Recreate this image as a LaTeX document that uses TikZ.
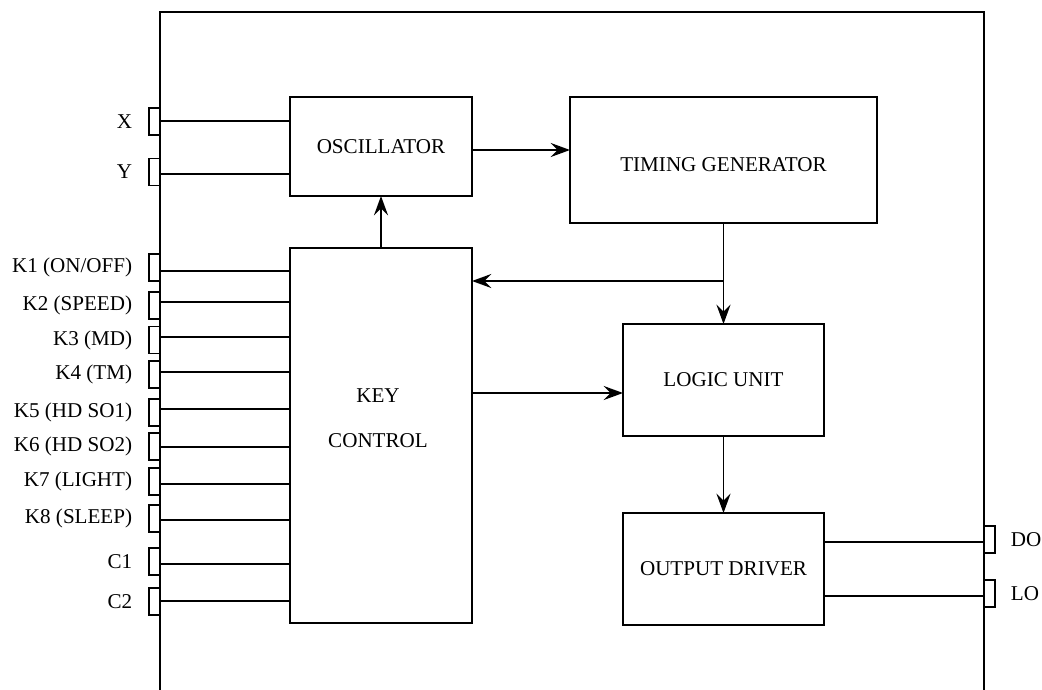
\documentclass[tikz,border=0pt]{standalone}
\usepackage{fontspec}
\setmainfont{Liberation Serif}
\usetikzlibrary{arrows.meta}

\begin{document}
\begin{tikzpicture}[x=0.02cm,y=-0.02cm,line width=1pt,
    every node/.style={font=\fontsize{12}{14}\selectfont},
    block/.style={draw,rectangle,inner sep=0pt,outer sep=0pt},
    pinbox/.style={draw,rectangle,inner sep=0pt,outer sep=0pt,
      line width=0.8pt,minimum width=0.22cm,minimum height=0.54cm},
    pinlabel/.style={inner sep=0pt},
    >={Stealth[length=11pt,width=8pt,inset=4pt]}]
  \useasboundingbox (0,0) rectangle (1042,690);

  % chip outline
  \draw (160,690) -- (160,12) -- (984,12) -- (984,690);

  % blocks
  \node[block,minimum width=3.64cm,minimum height=1.98cm] (osc) at (381,146.5) {OSCILLATOR};
  \node[block,minimum width=6.14cm,minimum height=2.52cm] (tim) at (723.5,160) {};
  \node (timtxt) at (723.5,165) {TIMING GENERATOR};
  \node[block,minimum width=3.64cm,minimum height=7.5cm] (key) at (381,435.5) {};
  \node[align=center] (keytxt) at (378,418) {KEY\\[11.6pt]CONTROL};
  \node[block,minimum width=4.02cm,minimum height=2.24cm] (logic) at (723.5,380) {LOGIC UNIT};
  \node[block,minimum width=4.02cm,minimum height=2.24cm] (out) at (723.5,569) {OUTPUT DRIVER};

  % input pins
  \foreach \nm/\py/\ly in {X/121.5/121, Y/172/174}{
    \node[pinbox] (p\nm) at (154.5,\py) {};
    \node[pinlabel,anchor=east] (l\nm) at (133,\py) {\nm};
    \draw (p\nm.east |- 0,\ly) -- (osc.west |- 0,\ly);
  }
  \foreach \nm/\lab/\py/\ly in {K1/{K1 (ON/OFF)}/267.5/271, K2/{K2 (SPEED)}/305.5/302,
      K3/{K3 (MD)}/340/337, K4/{K4 (TM)}/374.5/372, K5/{K5 (HD SO1)}/412.5/409,
      K6/{K6 (HD SO2)}/446.5/447, K7/{K7 (LIGHT)}/481.5/484, K8/{K8 (SLEEP)}/518.5/520,
      C1/{C1}/561.5/564, C2/{C2}/601.5/601}{
    \node[pinbox] (p\nm) at (154.5,\py) {};
    \node[pinlabel,anchor=east] (l\nm) at (133,\py) {\lab};
    \draw (p\nm.east |- 0,\ly) -- (key.west |- 0,\ly);
  }

  % output pins
  \foreach \nm/\py/\ly in {DO/539.5/542, LO/593.5/596}{
    \node[pinbox] (p\nm) at (989.5,\py) {};
    \node[pinlabel,anchor=west] (l\nm) at (1010,\py) {\nm};
    \draw (out.east |- 0,\ly) -- (p\nm.west |- 0,\ly);
  }

  % signal flow
  \draw[->] (osc.east |- 0,150) -- (tim.west |- 0,150);
  \draw[->] (key.north) -- (osc.south);
  \draw[->] (tim.south) -- (logic.north);
  \draw[->] (tim.south |- 0,281) -- (key.east |- 0,281);
  \draw[->] (key.east |- 0,393) -- (logic.west |- 0,393);
  \draw[->] (logic.south) -- (out.north);
\end{tikzpicture}
\end{document}
